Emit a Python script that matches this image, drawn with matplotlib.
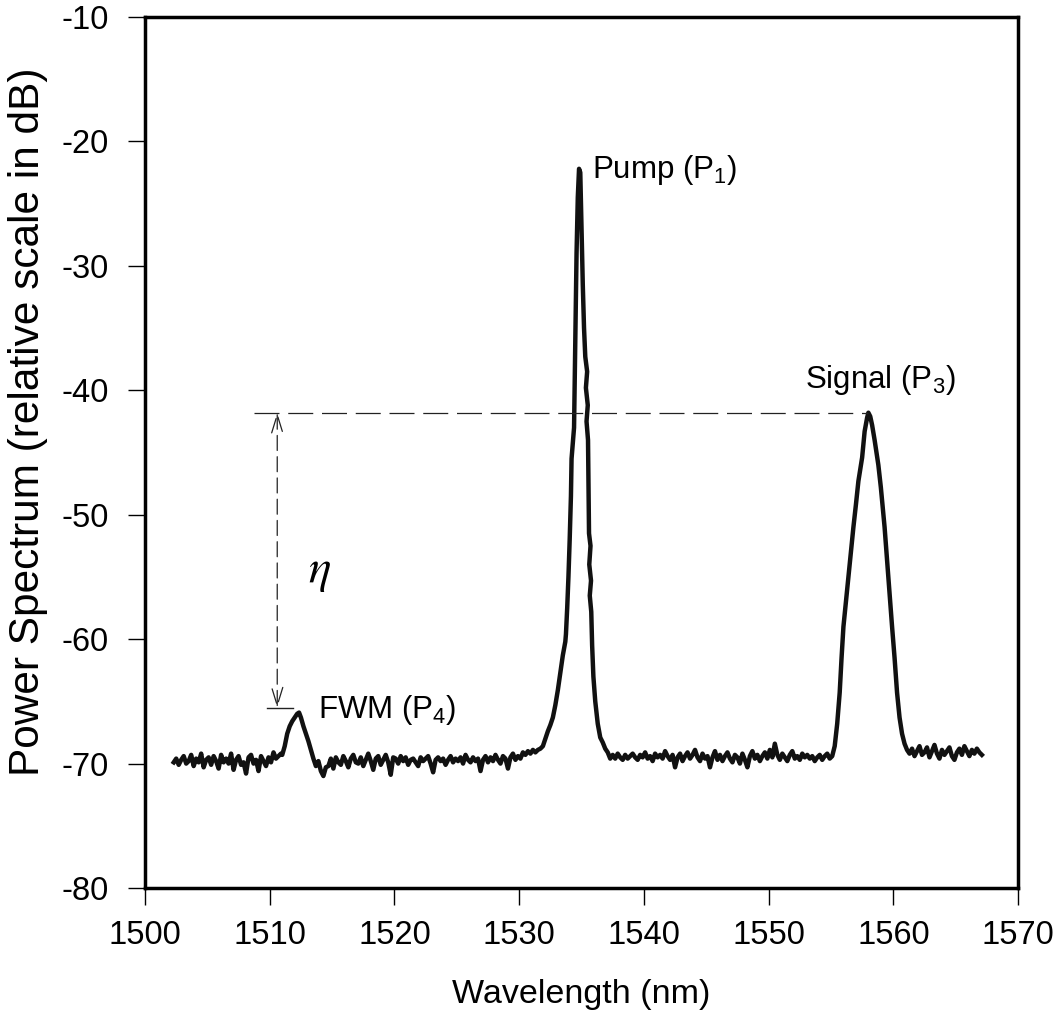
import matplotlib
matplotlib.use("Agg")
import matplotlib.pyplot as plt
import numpy as np

plt.rcParams['font.family'] = ['Liberation Sans', 'DejaVu Sans']
plt.rcParams['mathtext.fontset'] = 'custom'
plt.rcParams['mathtext.rm'] = 'Liberation Sans'
plt.rcParams['mathtext.it'] = 'Liberation Sans:italic'
plt.rcParams['axes.unicode_minus'] = False

# --- data (wavelength in nm, power in dB) ---
# noise floor pieces are sampled every 0.2 nm
floor_a_start, floor_a = 1502.3, [
    -69.9, -69.6, -70.1, -69.7, -69.4, -70.0, -69.8, -69.3, -70.2, -69.6,
    -69.9, -69.2, -70.3, -69.7, -69.5, -70.1, -69.4, -69.8, -70.4, -69.3,
    -69.9, -69.6, -70.0, -69.2, -70.5, -69.7, -69.4, -70.1, -69.9, -70.8,
    -69.5, -69.3, -70.0, -69.7, -70.6, -69.4, -69.8, -70.2, -69.5, -69.9,
    -69.1, -69.6, -69.4, -69.2]

fwm_wl = [1511.0, 1511.2, 1511.4, 1511.6, 1511.8, 1512.0, 1512.2, 1512.35,
          1512.5, 1512.7, 1512.9, 1513.1, 1513.3, 1513.5, 1513.7, 1513.9,
          1514.1, 1514.3, 1514.5]
fwm_db = [-69.3, -68.6, -67.6, -67.0, -66.6, -66.3, -66.0, -65.9,
          -66.3, -67.0, -67.6, -68.2, -68.9, -69.6, -70.2, -69.8,
          -70.6, -71.0, -70.3]

floor_b_start, floor_b = 1514.7, [
    -70.2, -69.6, -70.4, -69.5, -69.9, -70.1, -69.4, -69.8, -70.3, -69.6,
    -69.3, -69.9, -70.0, -69.5, -70.2, -69.7, -69.2, -69.8, -70.5, -69.6,
    -69.4, -70.1, -69.7, -69.3, -69.9, -70.9, -69.5, -69.6, -70.0, -69.4,
    -69.8, -69.5, -70.1, -69.7, -69.6, -69.9, -70.2, -69.5, -69.8, -69.6,
    -69.4, -70.0, -70.7, -69.7, -69.5, -69.8, -69.6, -70.1, -69.7, -69.4,
    -69.9, -69.6, -69.8, -69.5, -70.0, -69.3, -69.7, -69.9, -69.5, -69.8,
    -69.6, -70.6, -69.7, -69.4, -69.9, -69.5, -69.8, -69.3, -69.7, -70.0,
    -69.4, -69.6, -70.4, -69.5, -69.2, -69.7, -69.4, -69.6, -69.1, -69.3,
    -69.0, -69.2, -68.9, -69.1]

pump_wl = [1531.5, 1531.7, 1531.9, 1532.1, 1532.3, 1532.5, 1532.7, 1532.9,
           1533.1, 1533.3, 1533.5, 1533.7, 1533.75, 1533.85, 1533.95, 1534.05,
           1534.15, 1534.2, 1534.3, 1534.4, 1534.5, 1534.6, 1534.7, 1534.8,
           1534.9, 1535.0, 1535.1, 1535.2, 1535.3, 1535.45, 1535.35, 1535.5,
           1535.4, 1535.52, 1535.55, 1535.6, 1535.72, 1535.62, 1535.76, 1535.66,
           1535.78, 1535.85, 1535.95, 1536.1, 1536.3, 1536.5, 1536.7, 1536.9,
           1537.1, 1537.3]
pump_db = [-68.9, -68.8, -68.6, -68.0, -67.4, -66.9, -66.3, -65.3,
           -64.1, -62.7, -61.3, -60.2, -59.6, -57.5, -55.0, -52.0,
           -48.5, -45.5, -44.3, -43.0, -36.0, -29.0, -24.5, -22.2,
           -22.5, -27.0, -31.5, -35.0, -37.3, -38.5, -39.8, -41.2,
           -42.5, -44.0, -47.0, -51.5, -52.5, -54.0, -55.3, -56.5,
           -57.8, -60.5, -63.0, -65.0, -66.8, -67.9, -68.3, -68.8,
           -69.1, -69.6]

floor_c_start, floor_c = 1537.5, [
    -69.3, -69.6, -69.2, -69.5, -69.7, -69.3, -69.6, -69.4, -69.2, -69.5,
    -69.7, -69.3, -69.5, -69.1, -69.6, -69.4, -69.8, -69.2, -69.5, -69.3,
    -69.6, -69.0, -69.4, -69.7, -69.3, -70.3, -69.5, -69.2, -69.8, -69.4,
    -69.1, -69.6, -69.3, -68.9, -69.5, -69.8, -69.2, -69.6, -69.4, -70.3,
    -69.5, -69.0, -69.7, -69.3, -69.8, -69.4, -69.1, -69.6, -69.9, -69.3,
    -69.5, -70.0, -69.2, -69.7, -70.3, -69.4, -69.0, -69.6, -69.3, -69.8,
    -69.4, -69.1, -69.6, -68.9, -69.5, -68.4, -69.3, -69.7, -69.2, -69.5,
    -69.8, -69.3, -69.0, -69.6, -69.4, -69.7, -69.2, -69.5, -69.3, -69.6,
    -69.4, -69.8, -69.5, -69.3, -69.7, -69.4, -69.2, -69.6, -69.4]

signal_wl = [1555.3, 1555.5, 1555.7, 1555.85, 1556.0, 1556.2, 1556.4, 1556.6,
             1556.8, 1557.0, 1557.2, 1557.5, 1557.7, 1557.9, 1558.0, 1558.15,
             1558.3, 1558.5, 1558.8, 1559.0, 1559.3, 1559.6, 1559.9, 1560.1,
             1560.3, 1560.5, 1560.7, 1560.9, 1561.1]
signal_db = [-68.6, -66.8, -64.3, -61.5, -59.0, -57.0, -55.0, -53.0,
             -51.0, -49.2, -47.3, -45.4, -43.3, -42.2, -41.8, -42.1,
             -42.8, -44.0, -46.0, -47.8, -51.0, -55.0, -59.0, -61.5,
             -64.3, -66.3, -67.6, -68.4, -68.9]

floor_d_start, floor_d = 1561.3, [
    -69.2, -68.8, -69.4, -69.0, -68.6, -69.3, -69.1, -68.7, -69.5, -69.0,
    -68.5, -69.2, -69.6, -68.9, -69.3, -69.0, -68.7, -69.4, -69.7, -69.1,
    -68.8, -69.3, -68.6, -69.0, -69.4, -68.9, -69.2, -68.8, -69.1, -69.3]

signal_peak = (1558.0, -41.8)
fwm_mark = -65.5
eta_x = 1510.6

xticks = [1500, 1510, 1520, 1530, 1540, 1550, 1560, 1570]
yticks = [-80, -70, -60, -50, -40, -30, -20, -10]


def floor_wl(start, vals):
    return list(start + 0.2 * np.arange(len(vals)))


wl = (floor_wl(floor_a_start, floor_a) + fwm_wl +
      floor_wl(floor_b_start, floor_b) + pump_wl +
      floor_wl(floor_c_start, floor_c) + signal_wl +
      floor_wl(floor_d_start, floor_d))
db = floor_a + fwm_db + floor_b + pump_db + floor_c + signal_db + floor_d

fig = plt.figure(figsize=(10.61, 10.24), dpi=100)
ax = fig.add_axes([0.1367, 0.1328, 0.8228, 0.8506])

ax.plot(wl, db, color='#111111', lw=3.2, solid_joinstyle='round')

# reference lines for the conversion efficiency
ax.plot([1508.7, signal_peak[0]], [signal_peak[1], signal_peak[1]],
        color='#222222', lw=0.9, dashes=(20, 7))
ax.plot([1509.8, 1511.9], [fwm_mark, fwm_mark], color='#222222', lw=1.0)
ax.annotate('', xy=(eta_x, signal_peak[1]), xytext=(eta_x, fwm_mark),
            arrowprops=dict(arrowstyle='<->, head_length=1.3, head_width=0.4',
                            color='#222222', lw=0.9, linestyle=(0, (12, 5)),
                            shrinkA=0, shrinkB=0))
ax.text(1514.0, -54.6, r'$\eta$', fontsize=34, ha='center', va='center',
        math_fontfamily='stix')

ax.text(1535.85, -22.94, 'Pump (P$_1$)', fontsize=22.5, va='baseline')
ax.text(1552.93, -39.82, 'Signal (P$_3$)', fontsize=22.5, va='baseline')
ax.text(1513.87, -66.35, 'FWM (P$_4$)', fontsize=22.5, va='baseline')

ax.set_xlim(1500, 1570)
ax.set_ylim(-80, -10)
ax.set_xticks(xticks)
ax.set_yticks(yticks)
ax.tick_params(direction='out', length=12, width=1.0, labelsize=23.5)
ax.tick_params(axis='x', pad=11)
ax.tick_params(axis='y', pad=14)
for s in ax.spines.values():
    s.set_linewidth(2.5)

ax.set_xlabel('Wavelength (nm)', fontsize=24.5)
ax.set_ylabel('Power Spectrum (relative scale in dB)', fontsize=30.5)
ax.xaxis.set_label_coords(0.5, -0.105)
ax.yaxis.set_label_coords(-0.111, 0.535)

fig.savefig('out.png', dpi=100)
